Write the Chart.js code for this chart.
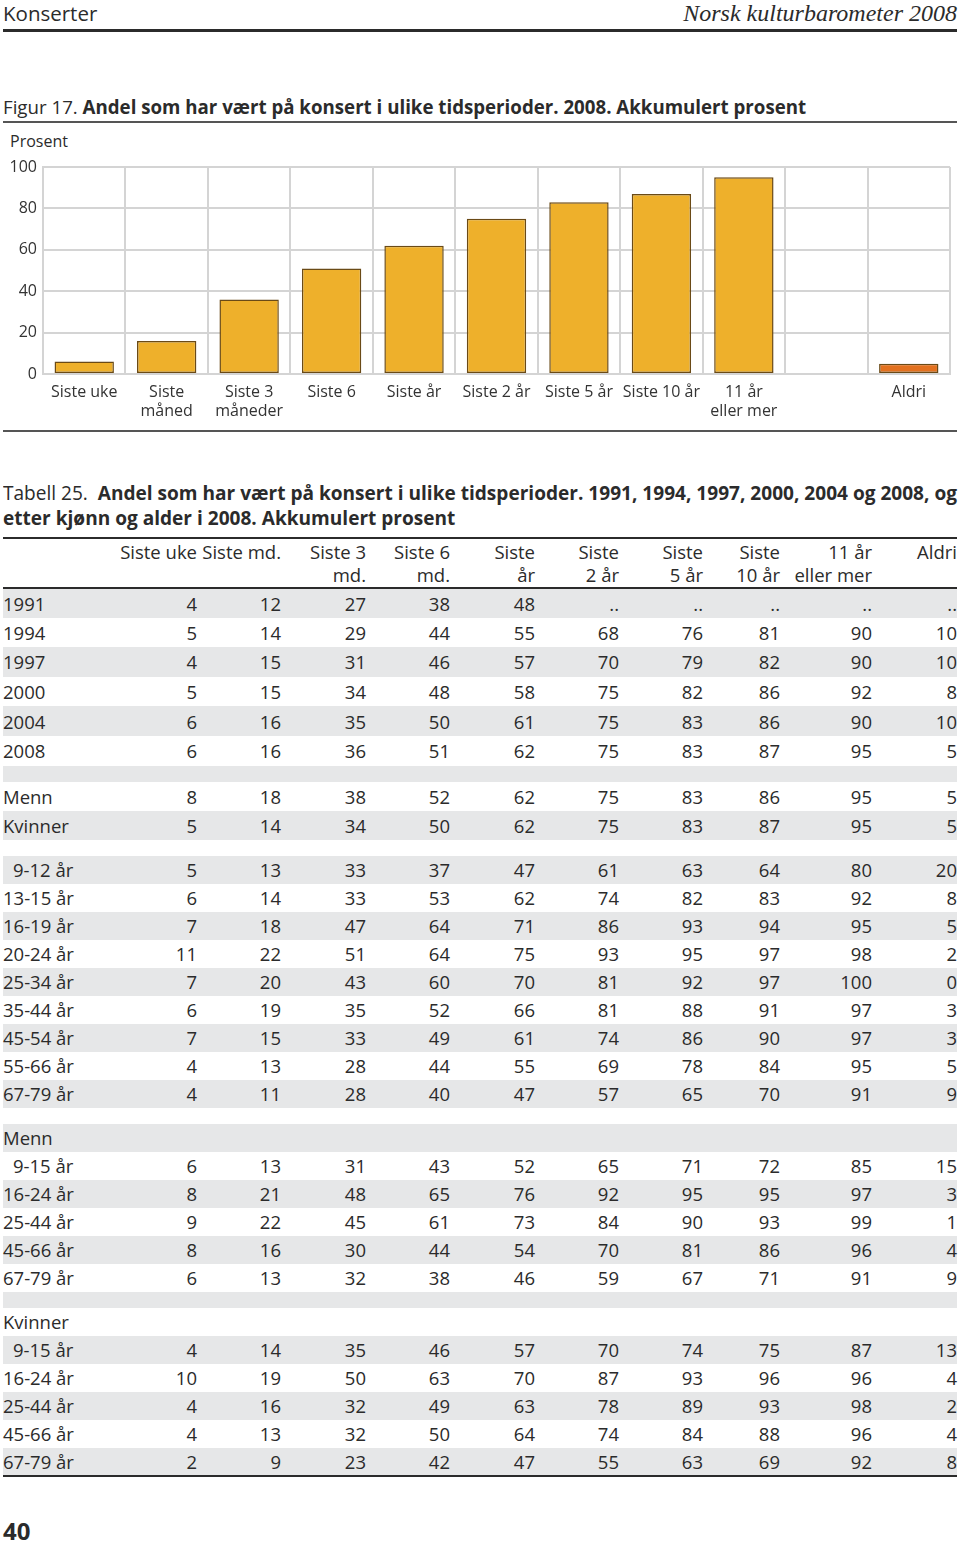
<!DOCTYPE html>
<html lang="no">
<head>
<meta charset="utf-8">
<script src="https://cdn.jsdelivr.net/npm/chart.js@4/dist/chart.umd.min.js"></script>
<style>
  html, body { margin: 0; padding: 0; background: #fff; }
  body { width: 960px; height: 1545px; position: relative; font-family: "Open Sans", "Noto Sans", sans-serif; color: #2b2b2b; overflow: hidden; }
  .abs { position: absolute; }
  .pagehead { left: 3px; top: 0; font-size: 20.5px; line-height: 26px; }
  .pagehead-r { right: 3px; top: -1px; font-size: 24px; line-height: 28px; font-family: "Liberation Serif", "DejaVu Serif", serif; font-style: italic; }
  .rule { left: 3px; width: 954px; background: #2b2b2b; }
  .figtitle { left: 3px; top: 94px; font-size: 18.7px; line-height: 26px; white-space: nowrap; }
  .figtitle b { font-weight: 700; }
  .prosent { left: 10px; top: 130px; font-size: 16px; line-height: 22px; }
  #chartWrap { left: 0; top: 150px; width: 960px; height: 280px; }
  .tabtitle { left: 3px; top: 480px; font-size: 20px; line-height: 25px; white-space: nowrap; transform-origin: 0 0; }
  .tabtitle b { font-weight: 700; }
  table { position: absolute; left: 3px; top: 537px; width: 954px; border-collapse: collapse; table-layout: fixed; font-size: 18.5px; }
  td, th { padding: 0; text-align: right; font-weight: 400; white-space: nowrap; }
  td:first-child, th:first-child { text-align: left; }
  thead tr { height: 50px; border-top: 2px solid #2b2b2b; border-bottom: 2px solid #2b2b2b; }
  thead th { line-height: 23px; vertical-align: top; padding-top: 1px; }
  tbody tr.g { background: #e6e7e8; }
  tbody tr.r1 { height: 29.6px; }
  tbody tr.r2 { height: 29px; }
  tbody tr.r3 { height: 28px; }
  tbody tr.blank { height: 16px; }
  tbody tr:last-child { border-bottom: 2px solid #2b2b2b; }
  td.ind { padding-left: 10px; }
  .pageno { left: 3px; top: 1516px; font-size: 24px; font-weight: 700; line-height: 30px; }
</style>
</head>
<body>
<div class="abs pagehead">Konserter</div>
<div class="abs pagehead-r">Norsk kulturbarometer 2008</div>
<div class="abs rule" style="top:29px;height:3px"></div>

<div class="abs figtitle">Figur 17. <b>Andel som har vært på konsert i ulike tidsperioder. 2008. Akkumulert prosent</b></div>
<div class="abs rule" style="top:121px;height:1.5px;background:#555"></div>
<div class="abs prosent">Prosent</div>
<div class="abs" id="chartWrap"><canvas id="chartKonsert"></canvas></div>
<div class="abs rule" style="top:430px;height:1.5px;background:#555"></div>

<div class="abs tabtitle" id="tabtitle">Tabell 25.&nbsp; <b>Andel som har vært på konsert i ulike tidsperioder. 1991, 1994, 1997, 2000, 2004 og 2008, og</b><br><b>etter kjønn og alder i 2008. Akkumulert prosent</b></div>
<table id="tab">
  <colgroup>
    <col style="width:107px"><col style="width:87px"><col style="width:84px"><col style="width:85px"><col style="width:84px">
    <col style="width:85px"><col style="width:84px"><col style="width:84px"><col style="width:77px"><col style="width:92px"><col style="width:85px">
  </colgroup>
  <thead><tr id="headRow"></tr></thead>
  <tbody id="tbody"></tbody>
</table>
<div class="abs pageno">40</div>

<script>
// ---- Figure data (2008) ----
const categories = [
  "Siste uke", ["Siste", "måned"], ["Siste 3", "måneder"], "Siste 6", "Siste år",
  "Siste 2 år", "Siste 5 år", "Siste 10 år", ["11 år", "eller mer"], "", "Aldri"
];
const values2008 = [6, 16, 36, 51, 62, 75, 83, 87, 95, null, 5];
const yTicks = [0, 20, 40, 60, 80, 100];

// ---- Table data ----
const tableHeads = ["", "Siste uke", "Siste md.", "Siste 3<br>md.", "Siste 6<br>md.", "Siste<br>år",
  "Siste<br>2 år", "Siste<br>5 år", "Siste<br>10 år", "11 år<br>eller mer", "Aldri"];
const yearRows = [
  ["1991", 4, 12, 27, 38, 48, "..", "..", "..", "..", ".."],
  ["1994", 5, 14, 29, 44, 55, 68, 76, 81, 90, 10],
  ["1997", 4, 15, 31, 46, 57, 70, 79, 82, 90, 10],
  ["2000", 5, 15, 34, 48, 58, 75, 82, 86, 92, 8],
  ["2004", 6, 16, 35, 50, 61, 75, 83, 86, 90, 10],
  ["2008", 6, 16, 36, 51, 62, 75, 83, 87, 95, 5]
];
const sexRows = [
  ["Menn", 8, 18, 38, 52, 62, 75, 83, 86, 95, 5],
  ["Kvinner", 5, 14, 34, 50, 62, 75, 83, 87, 95, 5]
];
const ageRows = [
  ["9-12 år", 5, 13, 33, 37, 47, 61, 63, 64, 80, 20],
  ["13-15 år", 6, 14, 33, 53, 62, 74, 82, 83, 92, 8],
  ["16-19 år", 7, 18, 47, 64, 71, 86, 93, 94, 95, 5],
  ["20-24 år", 11, 22, 51, 64, 75, 93, 95, 97, 98, 2],
  ["25-34 år", 7, 20, 43, 60, 70, 81, 92, 97, 100, 0],
  ["35-44 år", 6, 19, 35, 52, 66, 81, 88, 91, 97, 3],
  ["45-54 år", 7, 15, 33, 49, 61, 74, 86, 90, 97, 3],
  ["55-66 år", 4, 13, 28, 44, 55, 69, 78, 84, 95, 5],
  ["67-79 år", 4, 11, 28, 40, 47, 57, 65, 70, 91, 9]
];
const menRows = [
  ["9-15 år", 6, 13, 31, 43, 52, 65, 71, 72, 85, 15],
  ["16-24 år", 8, 21, 48, 65, 76, 92, 95, 95, 97, 3],
  ["25-44 år", 9, 22, 45, 61, 73, 84, 90, 93, 99, 1],
  ["45-66 år", 8, 16, 30, 44, 54, 70, 81, 86, 96, 4],
  ["67-79 år", 6, 13, 32, 38, 46, 59, 67, 71, 91, 9]
];
const womenRows = [
  ["9-15 år", 4, 14, 35, 46, 57, 70, 74, 75, 87, 13],
  ["16-24 år", 10, 19, 50, 63, 70, 87, 93, 96, 96, 4],
  ["25-44 år", 4, 16, 32, 49, 63, 78, 89, 93, 98, 2],
  ["45-66 år", 4, 13, 32, 50, 64, 74, 84, 88, 96, 4],
  ["67-79 år", 2, 9, 23, 42, 47, 55, 63, 69, 92, 8]
];

(function () {
  "use strict";

  // condensed title: squeeze to the table width
  const tt = document.getElementById("tabtitle");
  const w = tt.getBoundingClientRect().width;
  if (w > 954) tt.style.transform = "scaleX(" + (954 / w) + ")";

  // ---- Table ----
  const head = document.getElementById("headRow");
  tableHeads.forEach(function (h) {
    const th = document.createElement("th");
    th.innerHTML = h;
    head.appendChild(th);
  });

  const body = document.getElementById("tbody");
  let stripe = 0;
  function addRow(cells, cls, indent) {
    const tr = document.createElement("tr");
    tr.className = cls + (stripe % 2 === 0 ? " g" : "");
    stripe++;
    if (!cells) {
      tr.className += " blank";
      const td = document.createElement("td");
      td.colSpan = 11;
      tr.appendChild(td);
    } else {
      cells.forEach(function (c, i) {
        const td = document.createElement("td");
        td.textContent = c;
        if (i === 0 && indent && c.indexOf("9-") === 0) td.className = "ind";
        tr.appendChild(td);
      });
    }
    body.appendChild(tr);
  }
  const empty = ["", "", "", "", "", "", "", "", "", ""];
  yearRows.forEach((r) => addRow(r, "r1"));
  addRow(null, "");
  sexRows.forEach((r) => addRow(r, "r2"));
  addRow(null, "");
  ageRows.forEach((r) => addRow(r, "r3", true));
  addRow(null, "");
  addRow(["Menn"].concat(empty), "r3");
  menRows.forEach((r) => addRow(r, "r3", true));
  addRow(null, "");
  addRow(["Kvinner"].concat(empty), "r3");
  womenRows.forEach((r) => addRow(r, "r3", true));

  // ---- Chart ----
  const GRID = "#d4d4d4";
  const FONT = { family: "'Open Sans', 'Noto Sans', sans-serif", size: 16 };

  new Chart(document.getElementById("chartKonsert"), {
    type: "bar",
    data: {
      labels: categories,
      datasets: [{
        data: values2008,
        backgroundColor: values2008.map((_, i) => i === values2008.length - 1 ? "#e3711f" : "#eeb02b"),
        borderColor: "#6a4a16",
        borderWidth: 1.5,
        borderSkipped: false,
        categoryPercentage: 1,
        barPercentage: 0.72
      }]
    },
    options: {
      responsive: true,
      maintainAspectRatio: false,
      animation: false,
      layout: { padding: { top: 17, right: 10, left: 0, bottom: 0 } },
      plugins: { legend: { display: false }, tooltip: { enabled: false } },
      scales: {
        x: {
          grid: { color: GRID, lineWidth: 2, drawTicks: false, offset: true },
          border: { color: GRID, width: 2 },
          ticks: { color: "#333", font: FONT, padding: 9, maxRotation: 0, autoSkip: false },
          afterFit: (s) => { s.height = 56; }
        },
        y: {
          min: 0, max: 100,
          afterBuildTicks: (s) => { s.ticks = yTicks.map((v) => ({ value: v })); },
          grid: { color: GRID, lineWidth: 2, drawTicks: false },
          border: { color: GRID, width: 2 },
          ticks: { color: "#333", font: FONT, padding: 6 },
          afterFit: (s) => { s.width = 43; }
        }
      }
    },
    plugins: [{
      id: "rightEdge",
      afterDraw(chart) {
        const a = chart.chartArea, c = chart.ctx;
        c.save();
        c.strokeStyle = GRID; c.lineWidth = 2;
        c.beginPath(); c.moveTo(a.right, a.top); c.lineTo(a.right, a.bottom); c.stroke();
        c.restore();
      }
    }]
  });
})();
</script>
</body>
</html>
